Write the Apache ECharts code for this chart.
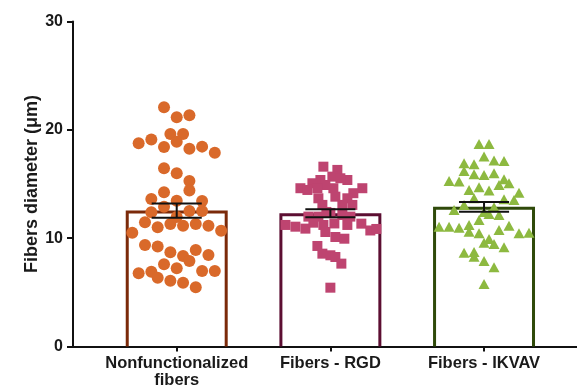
<!DOCTYPE html>
<html>
<head>
<meta charset="utf-8">
<script src="https://cdn.jsdelivr.net/npm/echarts@6/dist/echarts.min.js"></script>
<style>
html,body{margin:0;padding:0;background:#fff;}
#c{width:577px;height:387px;}
</style>
</head>
<body>
<div id="c"></div>
<script>
// ---------- data ----------
const categories = ['Nonfunctionalized\nfibers', 'Fibers - RGD', 'Fibers - IKVAV'];
const means = [12.55, 12.3, 12.9];
const sems = [0.66, 0.37, 0.45];
const yTicks = [0, 10, 20, 30];

const nonfunc = [22.09,21.16,21.35,19.62,19.62,19.10,18.76,18.91,18.42,18.26,
  18.45,17.89,16.45,15.99,15.28,14.39,14.24,13.62,13.46,13.43,
  12.91,12.39,12.51,12.51,11.96,11.47,11.01,11.31,11.15,11.31,
  11.15,10.51,10.69,9.37,9.22,8.70,8.91,8.36,8.45,7.89,
  7.59,7.22,6.76,6.91,6.97,6.97,6.35,6.08,5.89,5.47];
const nonfuncSlot = [-2,0,2,-1,1,-4,-6,0,-2,2,
  4,6,-2,0,2,2,-2,-4,0,4,
  -2,-4,2,4,0,-5,-3,-1,1,3,
  5,-7,7,-5,-3,-1,3,1,5,2,
  -2,0,-6,-4,4,6,-3,-1,1,3];

const rgd = [16.60,16.30,15.68,15.37,15.53,15.37,15.07,14.61,14.91,14.61,
  14.45,14.61,14.61,14.15,13.83,13.68,13.68,13.07,13.07,13.07,
  11.99,11.99,12.14,11.99,11.22,11.06,10.88,11.43,11.22,11.36,
  11.22,11.34,10.71,10.85,10.57,10.11,9.95,9.28,8.57,8.42,
  8.26,7.65,5.43,12.33,12.42];
const rgdSlot = [-7,7,2,17,10,-10,-18,3,-5,-30,
  -23,-13,32,23,5,-12,17,12,-8,22,
  -22,-12,12,20,-45,-35,-25,-17,-7,4,
  17,31,40,46,-5,5,14,-13,-8,0,
  5,11,0,0,-4];

const ikvav = [18.70,18.70,17.53,17.16,17.13,16.92,16.82,16.21,15.90,15.84,
  15.99,15.28,15.22,15.44,15.07,14.91,14.45,14.70,14.39,14.20,
  13.68,13.53,13.59,13.07,12.85,12.60,12.23,12.14,12.42,11.68,
  11.06,11.06,10.97,11.22,10.60,11.15,10.76,10.45,10.45,10.51,
  9.93,9.58,9.46,9.16,8.66,8.73,8.29,7.89,7.31,5.77];
const ikvavSlot = [-1,1,0,2,4,-4,-2,-4,-2,0,
  2,-7,-5,4,5,3,-3,-1,1,7,
  -2,6,4,-4,2,-6,1,3,0,-1,
  -9,-7,-5,-3,-3,5,3,-1,7,9,
  1,0,2,4,-4,-2,-2,0,2,0];

// ---------- styling / layout ----------
const FONT = 'Liberation Sans, Arial, Helvetica, sans-serif';
const markColors = ['#D9692A', '#BE4470', '#8DB940'];
const barColors = ['#7B2A0A', '#5C0E32', '#2F4A0A'];
const slotW = [0.0413, 0.0065, 0.0325];
const barHalf = 0.322;
const capHalf = 0.163;

function pts(vals, slots, gi) {
  return vals.map((v, i) => [gi + 1 + slots[i] * slotW[gi], v]);
}

const barData = means.map((m, i) => [i + 1, m, i]);
const errData = means.map((m, i) => [i + 1, m - sems[i], m + sems[i]]);

const chart = echarts.init(document.getElementById('c'), null, {renderer: 'canvas'});
chart.setOption({
  backgroundColor: '#fff',
  animation: false,
  grid: {left: 73, right: 0, top: 21.5, bottom: 40.5, containLabel: false, outerBoundsMode: 'none'},
  xAxis: {
    type: 'value', min: 0.325, max: 3.605,
    axisLine: {show: true, onZero: false, lineStyle: {color: '#111', width: 2}},
    axisTick: {show: true, customValues: [1, 2, 3], length: 5, lineStyle: {color: '#111', width: 2}},
    axisLabel: {
      customValues: [1, 2, 3],
      formatter: v => categories[Math.round(v) - 1] || '',
      fontFamily: FONT, fontWeight: 'bold', fontSize: 16.5, color: '#1a1a1a',
      lineHeight: 17, margin: 8
    },
    splitLine: {show: false}
  },
  yAxis: {
    type: 'value', min: 0, max: 30, interval: 10,
    name: 'Fibers diameter (\u03BCm)', nameLocation: 'middle', nameGap: 32, nameMoveOverlap: false,
    nameTextStyle: {fontFamily: FONT, fontWeight: 'bold', fontSize: 18, color: '#1a1a1a'},
    axisLine: {show: true, lineStyle: {color: '#111', width: 2}},
    axisTick: {show: true, length: 6, lineStyle: {color: '#111', width: 2}},
    axisLabel: {
      fontFamily: FONT, fontWeight: 'bold', fontSize: 16, color: '#1a1a1a', margin: 10,
      formatter: v => (yTicks.indexOf(v) >= 0 ? String(v) : '')
    },
    splitLine: {show: false}
  },
  series: [
    {
      type: 'custom', z: 1, silent: true,
      data: barData,
      renderItem: function (params, api) {
        const x = api.value(0), m = api.value(1), gi = api.value(2);
        const tl = api.coord([x - barHalf, m]);
        const br = api.coord([x + barHalf, 0]);
        const top = tl[1] + 1.5;
        return {
          type: 'polyline',
          shape: {points: [[tl[0], br[1]], [tl[0], top], [br[0], top], [br[0], br[1]]]},
          style: {fill: null, stroke: barColors[gi], lineWidth: 3}
        };
      }
    },
    {type: 'scatter', z: 2, symbol: 'circle', symbolSize: 12, itemStyle: {color: markColors[0], opacity: 1}, data: pts(nonfunc, nonfuncSlot, 0)},
    {type: 'scatter', z: 2, symbol: 'rect', symbolSize: 10, itemStyle: {color: markColors[1], opacity: 1}, data: pts(rgd, rgdSlot, 1)},
    {type: 'scatter', z: 2, symbol: 'triangle', symbolSize: [11, 10], itemStyle: {color: markColors[2], opacity: 1}, data: pts(ikvav, ikvavSlot, 2)},
    {
      type: 'custom', z: 3, silent: true,
      data: errData,
      renderItem: function (params, api) {
        const x = api.value(0), lo = api.value(1), hi = api.value(2);
        const pLo = api.coord([x, lo]), pHi = api.coord([x, hi]);
        const cl = api.coord([x - capHalf, lo]), cr = api.coord([x + capHalf, lo]);
        const style = {stroke: '#111', lineWidth: 2};
        return {
          type: 'group',
          children: [
            {type: 'line', shape: {x1: pLo[0], y1: pLo[1], x2: pHi[0], y2: pHi[1]}, style: style},
            {type: 'line', shape: {x1: cl[0], y1: pLo[1], x2: cr[0], y2: pLo[1]}, style: style},
            {type: 'line', shape: {x1: cl[0], y1: pHi[1], x2: cr[0], y2: pHi[1]}, style: style}
          ]
        };
      }
    }
  ]
});
</script>
</body>
</html>
